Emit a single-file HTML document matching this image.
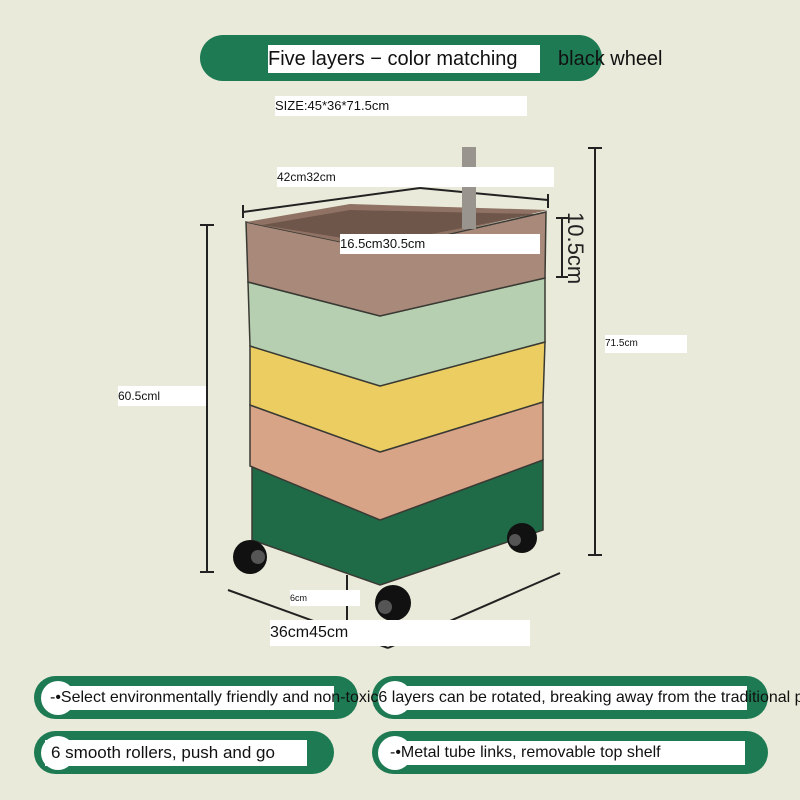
<!DOCTYPE html>
<html><head><style>
body{margin:0;width:800px;height:800px;background:#e9ead9;overflow:hidden;font-family:"Liberation Sans",sans-serif;}
.a{position:absolute;}
.lbl{position:absolute;background:#fff;color:#111;white-space:nowrap;overflow:hidden;}
.pill{position:absolute;background:#1d7a53;border-radius:22px;height:43px;}
.dot{position:absolute;background:#fff;border-radius:50%;width:34px;height:34px;}
.wb{position:absolute;background:#fff;}
</style></head><body>
<div class="pill" style="left:200px;top:35px;width:402px;height:46px;border-radius:23px"></div>
<div class="lbl" style="left:268px;top:45px;width:272px;height:28px;font-size:20px;line-height:28px">Five layers − color matching</div>
<div class="a" style="left:558px;top:48px;font-size:20px;color:#111">black wheel</div>
<div class="lbl" style="left:275px;top:96px;width:252px;height:20px;font-size:13px;line-height:20px">SIZE:45*36*71.5cm</div>

<svg class="a" style="left:0;top:0" width="800" height="660">
<g stroke="#222" stroke-width="2" fill="none">
<line x1="243" y1="212" x2="420" y2="188"/><line x1="420" y1="188" x2="548" y2="200"/>
<line x1="243" y1="205" x2="243" y2="218"/><line x1="548" y1="194" x2="548" y2="208"/>
<line x1="207" y1="225" x2="207" y2="572"/><line x1="200" y1="225" x2="214" y2="225"/><line x1="200" y1="572" x2="214" y2="572"/>
<line x1="595" y1="148" x2="595" y2="555"/><line x1="588" y1="148" x2="602" y2="148"/><line x1="588" y1="555" x2="602" y2="555"/>
<line x1="562" y1="218" x2="562" y2="277"/><line x1="556" y1="218" x2="568" y2="218"/><line x1="556" y1="277" x2="568" y2="277"/>
<line x1="228" y1="590" x2="388" y2="648"/><line x1="388" y1="648" x2="560" y2="573"/>
<line x1="347" y1="575" x2="347" y2="620"/>
</g>
<g stroke="#3a3a34" stroke-width="1.5">
<polygon points="252,466 380,520 543,460 543,530 380,585 252,540" fill="#1f6b47"/>
<polygon points="250,405 380,452 543,402 543,460 380,520 250,466" fill="#d8a488"/>
<polygon points="250,346 380,386 545,342 543,402 380,452 250,405" fill="#ebcd62"/>
<polygon points="248,282 380,316 545,278 545,342 380,386 250,346" fill="#b6cfb0"/>
<polygon points="246,222 380,250 546,212 545,278 380,316 248,282" fill="#a98a7a"/>
</g>
<polygon points="246,222 350,204 548,210 380,250" fill="#8f7264"/>
<polygon points="262,225 350,210 535,214 380,244" fill="#6e564a"/>
<rect x="462" y="147" width="14" height="82" fill="#9a948e"/>
<circle cx="250" cy="557" r="17" fill="#111"/><circle cx="258" cy="557" r="7" fill="#555"/>
<circle cx="522" cy="538" r="15" fill="#111"/><circle cx="515" cy="540" r="6" fill="#555"/>
<circle cx="393" cy="603" r="18" fill="#111"/><circle cx="385" cy="607" r="7" fill="#555"/>
<text x="0" y="0" transform="translate(568,212) rotate(90)" font-size="22" fill="#222" font-family="Liberation Sans">10.5cm</text>
</svg>
<div class="lbl" style="left:277px;top:167px;width:277px;height:20px;font-size:12px;line-height:20px">42cm32cm</div>
<div class="lbl" style="left:340px;top:234px;width:200px;height:20px;font-size:13px;line-height:20px">16.5cm30.5cm</div>
<div class="lbl" style="left:118px;top:386px;width:88px;height:20px;font-size:12px;line-height:20px">60.5cml</div>
<div class="lbl" style="left:605px;top:335px;width:82px;height:18px;font-size:10px;line-height:18px">71.5cm</div>
<div class="lbl" style="left:290px;top:590px;width:70px;height:16px;font-size:9px;line-height:16px">6cm</div>
<div class="lbl" style="left:270px;top:620px;width:260px;height:26px;font-size:16px;line-height:26px">36cm45cm</div>

<div class="pill" style="left:34px;top:676px;width:324px"></div>
<div class="dot" style="left:41px;top:681px"></div>
<div class="wb" style="left:48px;top:686px;width:286px;height:24px"></div>
<div class="pill" style="left:372px;top:676px;width:396px"></div>
<div class="dot" style="left:378px;top:681px"></div>
<div class="wb" style="left:385px;top:686px;width:362px;height:24px"></div>
<div class="a" style="left:50px;top:688px;font-size:16px;line-height:20px;white-space:nowrap;color:#111">-•Select environmentally friendly and non-toxic6 layers can be rotated, breaking away from the traditional p</div>

<div class="pill" style="left:34px;top:731px;width:300px"></div>
<div class="dot" style="left:41px;top:736px"></div>
<div class="wb" style="left:45px;top:740px;width:262px;height:26px"></div>
<div class="a" style="left:51px;top:742px;font-size:17px;line-height:22px;white-space:nowrap;color:#111">6 smooth rollers, push and go</div>
<div class="pill" style="left:372px;top:731px;width:396px"></div>
<div class="dot" style="left:378px;top:736px"></div>
<div class="wb" style="left:383px;top:741px;width:362px;height:24px"></div>
<div class="a" style="left:390px;top:743px;font-size:16px;line-height:20px;white-space:nowrap;color:#111">-•Metal tube links, removable top shelf</div>
</body></html>
